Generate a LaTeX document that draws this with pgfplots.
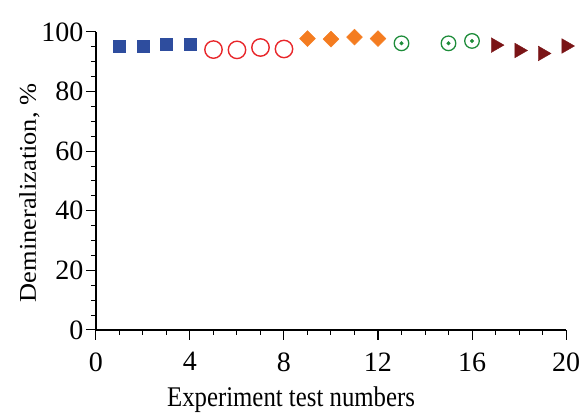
\documentclass[border=0pt]{standalone}
\usepackage{pgfplots}
\pgfplotsset{compat=1.18}
\usepackage{fontspec}
\setmainfont{Liberation Serif}
\newfontfamily\xlfont{Liberation Serif}[FakeStretch=0.87]
\newfontfamily\ylfont{Liberation Serif}[FakeStretch=1.1]

\definecolor{cblue}{HTML}{2E4D9E}
\definecolor{cred}{HTML}{E8262A}
\definecolor{corange}{HTML}{F47C20}
\definecolor{cgreen}{HTML}{1E8C3A}
\definecolor{cdark}{HTML}{7A1416}

\begin{document}
\begin{tikzpicture}
\begin{axis}[
    name=main,
    scale only axis,
    width=470pt, height=298pt,
    xmin=0, xmax=20, ymin=0, ymax=100,
    axis lines*=left,
    axis line style={line width=1.4pt},
    tick align=outside,
    xtick={0,4,...,20}, ytick={0,20,...,100},
    minor x tick num=3, minor y tick num=3,
    major tick length=10pt, minor tick length=5pt,
    tick style={line width=1pt, black},
    ticklabel style={font=\fontsize{28}{32}\selectfont},
    xticklabel style={yshift=-9pt},
    yticklabel style={xshift=1pt},
    /pgf/number format/assume math mode=true,
    xlabel={\xlfont\fontsize{28.5}{32}\selectfont Experiment test numbers},
    ylabel={\ylfont\fontsize{24}{28}\selectfont Demineralization, \%},
    xlabel style={at={(axis description cs:0.415,-0.258)}, anchor=base},
    ylabel style={at={(axis description cs:-0.1277,0.46)}, anchor=base},
    clip=false,
]
\addplot[only marks, mark=square*, mark size=6pt, color=cblue] coordinates {
    (1, 95.1) (2, 95.1) (3, 95.8) (4, 96.0)
};
\addplot[only marks, mark=o, mark size=8.7pt, color=cred, mark options={line width=1.4pt}] coordinates {
    (5, 94.1) (6, 94.0) (7, 94.8) (8, 94.3)
};
\addplot[only marks, mark=square*, mark size=5.6pt, color=corange, mark options={rotate=45}] coordinates {
    (9, 97.8) (10, 97.6) (11, 98.3) (12, 97.8)
};
\addplot[only marks, mark=o, mark size=7.3pt, color=cgreen, mark options={line width=1.3pt}] coordinates {
    (13, 96.2) (15, 96.2) (16, 97.0)
};
\addplot[only marks, mark=*, mark size=1.8pt, color=cgreen] coordinates {
    (13, 96.2) (15, 96.2) (16, 97.0)
};
\addplot[only marks, mark=triangle*, mark size=8.5pt, color=cdark, mark options={rotate=-90}] coordinates {
    (17, 95.6) (18, 93.8) (19, 92.8) (20, 95.3)
};
\end{axis}
\pgfresetboundingbox
\path (main.south west) ++(-96pt,-84pt) rectangle ++(584pt,414pt);
\end{tikzpicture}
\end{document}
